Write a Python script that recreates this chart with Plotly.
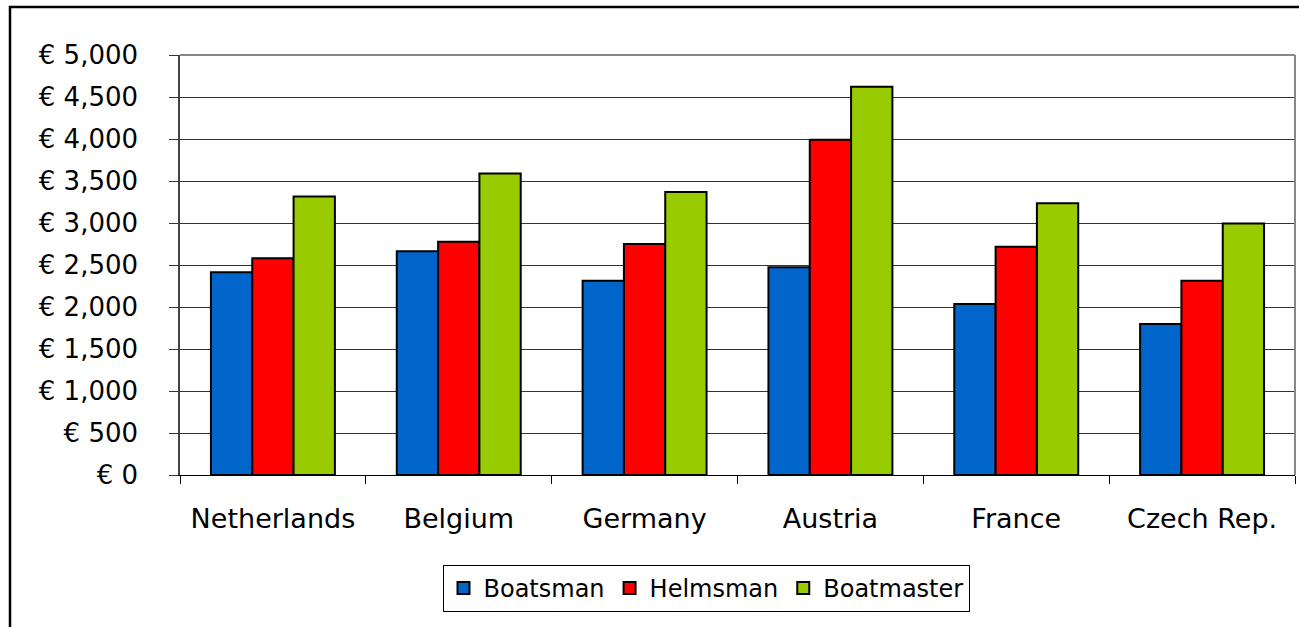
import plotly.graph_objects as go

countries = ["Netherlands", "Belgium", "Germany", "Austria", "France", "Czech Rep."]
boatsman = [2415, 2665, 2312, 2472, 2036, 1798]
helmsman = [2580, 2776, 2750, 3992, 2718, 2313]
boatmaster = [3315, 3590, 3369, 4622, 3234, 2995]
series_names = ["Boatsman", "Helmsman", "Boatmaster"]
colors = ["#0066CC", "#FF0000", "#99CC00"]
y_ticks = [0, 500, 1000, 1500, 2000, 2500, 3000, 3500, 4000, 4500, 5000]
y_ticktext = ["€ " + f"{v:,}" for v in y_ticks]

FONT = "DejaVu Sans"

fig = go.Figure()
for name, vals, col in zip(series_names, [boatsman, helmsman, boatmaster], colors):
    fig.add_trace(go.Bar(
        x=countries, y=vals, name=name,
        marker=dict(color=col, line=dict(color="black", width=2)),
    ))

W, H = 1299, 627
ml, mr, mt, mb = 180, 4, 55, 152
pw, ph = W - ml - mr, H - mt - mb

fig.update_layout(
    width=W, height=H,
    margin=dict(l=ml, r=mr, t=mt, b=mb),
    paper_bgcolor="white", plot_bgcolor="white",
    barmode="group", bargap=0.333, bargroupgap=0,
    font=dict(family=FONT, size=24, color="black"),
    showlegend=True,
    legend=dict(
        orientation="h", x=(706 - ml) / pw, y=(mt + ph - 588.5) / ph,
        xanchor="center", yanchor="middle",
        bordercolor="black", borderwidth=1,
        font=dict(family=FONT, size=24),
        itemwidth=30, tracegroupgap=0,
    ),
    xaxis=dict(
        showline=True, linecolor="black", linewidth=1,
        ticks="outside", tickson="boundaries", ticklen=8, tickcolor="black",
        tickfont=dict(family=FONT, size=27),
        ticklabelstandoff=20,
        mirror=False,
    ),
    yaxis=dict(
        range=[0, 5000], tickvals=y_ticks, ticktext=y_ticktext,
        showgrid=True, gridcolor="#333333", gridwidth=1,
        showline=True, linecolor="#444444", linewidth=1.5,
        ticks="outside", ticklen=9, tickcolor="#333333",
        tickfont=dict(family=FONT, size=26),
        ticklabelstandoff=26,
        zeroline=False,
    ),
    shapes=[
        dict(type="line", xref="paper", yref="paper", x0=0, x1=1, y0=1, y1=1,
             line=dict(color="#888888", width=2)),
        dict(type="line", xref="paper", yref="paper", x0=1, x1=1, y0=0, y1=1,
             line=dict(color="#888888", width=2)),
        dict(type="rect", xref="paper", yref="paper",
             x0=(10 - ml) / pw, x1=1.05, y0=-0.6, y1=1 + (mt - 7) / ph,
             line=dict(color="black", width=2.5)),
    ],
)

fig.write_html("out.html")
